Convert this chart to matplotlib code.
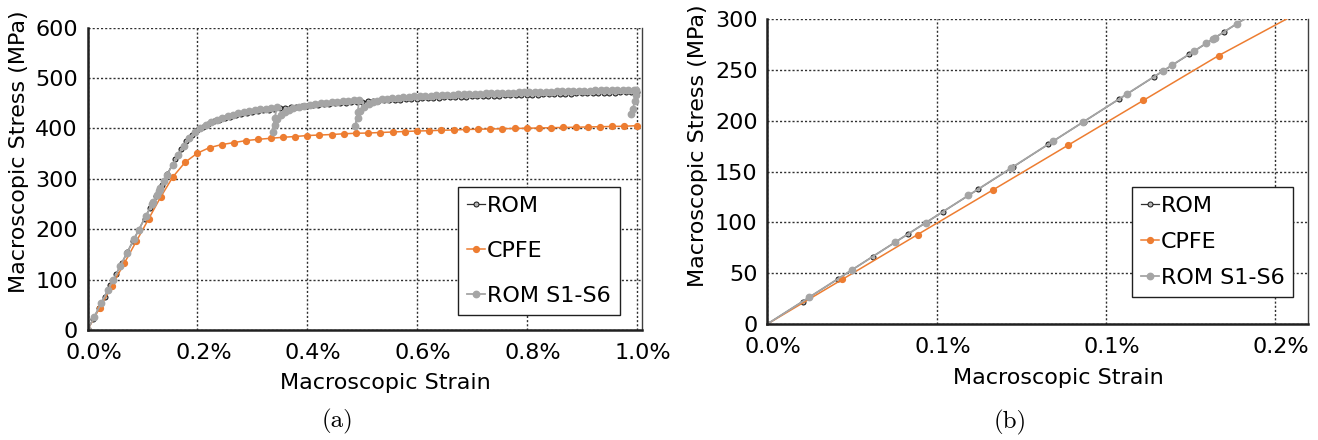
import matplotlib.pyplot as plt
from matplotlib.transforms import ScaledTranslation

# strain in %, stress in MPa
rom_strain = [0, 0.0104, 0.0208, 0.0311, 0.0415, 0.0519, 0.0623, 0.0727, 0.0830, 0.0934,
              0.1038, 0.1142, 0.1246, 0.1349, 0.1453,
              0.16, 0.17, 0.18, 0.19, 0.20, 0.21, 0.22, 0.23, 0.24, 0.25,
              0.26, 0.27, 0.28, 0.29, 0.30, 0.31, 0.32, 0.33, 0.34, 0.35,
              0.36, 0.37, 0.38, 0.39, 0.40, 0.41, 0.42, 0.43, 0.44, 0.45,
              0.46, 0.47, 0.48, 0.49, 0.50, 0.51, 0.52, 0.53, 0.54, 0.55,
              0.56, 0.57, 0.58, 0.59, 0.60, 0.61, 0.62, 0.63, 0.64, 0.65,
              0.66, 0.67, 0.68, 0.69, 0.70, 0.71, 0.72, 0.73, 0.74, 0.75,
              0.76, 0.77, 0.78, 0.79, 0.80, 0.81, 0.82, 0.83, 0.84, 0.85,
              0.86, 0.87, 0.88, 0.89, 0.90, 0.91, 0.92, 0.93, 0.94, 0.95,
              0.96, 0.97, 0.98, 0.99, 1.00]
rom_stress = [0, 22.1, 44.2, 66.3, 88.4, 110.5, 132.6, 154.7, 176.8, 198.9,
              221.0, 243.1, 265.2, 287.3, 309.4,
              340, 359, 375, 387, 396, 403.5, 409.5, 414, 417.5, 420.5,
              423.5, 426, 428.5, 430.5, 432.5, 434.5, 436, 437.5, 439, 440.5,
              441.5, 442.5, 443.5, 444.5, 445.5, 446.5, 447.3, 448.1, 448.9, 449.7,
              450.5, 451.2, 451.9, 452.6, 453.3, 454, 454.6, 455.2, 455.8, 456.4,
              457, 457.5, 458, 458.5, 459.2, 459.7, 460.2, 460.7, 461.1, 461.5,
              461.9, 462.3, 462.7, 463.1, 463.5, 463.8, 464.2, 464.6, 465, 465.3,
              465.6, 465.9, 466.2, 466.5, 466.8, 467.1, 467.4, 467.7, 468, 468.3,
              468.6, 468.9, 469.2, 469.5, 469.8, 470.1, 470.4, 470.7, 471, 471.2,
              471.4, 471.6, 471.8, 472, 472.2]

cpfe_strain = [0, 0.0222, 0.0444, 0.0667, 0.0889, 0.1111, 0.1333, 0.1556, 0.1778, 0.2000,
               0.2222, 0.2444, 0.2667, 0.2889, 0.3111, 0.3333, 0.3556, 0.3778, 0.4000, 0.4222,
               0.4444, 0.4667, 0.4889, 0.5111, 0.5333, 0.5556, 0.5778, 0.6000, 0.6222, 0.6444,
               0.6667, 0.6889, 0.7111, 0.7333, 0.7556, 0.7778, 0.8000, 0.8222, 0.8444, 0.8667,
               0.8889, 0.9111, 0.9333, 0.9556, 0.9778, 1.0000]
cpfe_stress = [0, 44, 88, 132, 176, 220, 264, 304, 333, 351,
               362, 368, 372, 376, 378.5, 380.5, 382.5, 384, 386, 387,
               388, 389.5, 390.5, 391, 392, 393, 394, 395, 395.5, 396.5,
               397, 398, 398.5, 399, 399.5, 400, 400.5, 401, 401.5, 402,
               402.5, 403, 403.5, 404, 404.5, 405.5]

s16_strain = [0, 0.0124, 0.0251, 0.0377, 0.0468, 0.0594, 0.0720, 0.0845, 0.0931, 0.1061,
              0.1170, 0.1194, 0.1261, 0.1296, 0.1316, 0.1322, 0.1386,
              0.145, 0.155, 0.165, 0.175, 0.185, 0.195, 0.205, 0.215, 0.225, 0.235,
              0.245, 0.255, 0.265, 0.275, 0.285, 0.295, 0.305, 0.315, 0.325, 0.335, 0.345,
              0.341, 0.337, 0.341, 0.346, 0.352, 0.359, 0.367, 0.375, 0.385,
              0.395, 0.405, 0.415, 0.425, 0.435, 0.445, 0.455, 0.465, 0.475, 0.485, 0.495,
              0.492, 0.488, 0.492, 0.497, 0.504, 0.512, 0.520, 0.528, 0.537,
              0.545, 0.555, 0.565, 0.575, 0.585, 0.595, 0.605, 0.615, 0.625, 0.635,
              0.645, 0.655, 0.665, 0.675, 0.685, 0.695, 0.705, 0.715, 0.725, 0.735,
              0.745, 0.755, 0.765, 0.775, 0.785, 0.795, 0.805, 0.815, 0.825, 0.835,
              0.845, 0.855, 0.865, 0.875, 0.885, 0.895, 0.905, 0.915, 0.925, 0.935,
              0.945, 0.955, 0.965, 0.975, 0.985, 0.995, 0.9995,
              0.9995, 0.997, 0.993, 0.989]
s16_stress = [0, 26.4, 53.5, 80.3, 99.7, 126.5, 153.4, 180.0, 198.3, 226.0,
              249.2, 254.3, 268.6, 276.0, 280.3, 281.6, 295.2,
              308, 328.5, 348, 366, 381, 392.5, 401, 407.5, 413, 417.5,
              421.5, 424.5, 427.5, 430, 432.5, 434.5, 436.5, 438, 439.5, 440.8, 442,
              421, 394, 406, 418, 426, 432, 437, 440.5, 443.5,
              445.5, 447.5, 448.8, 450, 451, 452, 453, 454, 454.8, 455.6, 456.3,
              432, 405, 421, 435, 443, 448, 452, 455.5, 458,
              459.5, 460.5, 461.3, 462.1, 462.9, 463.6, 464.2, 464.8, 465.3, 465.8,
              466.3, 466.8, 467.2, 467.6, 468, 468.4, 468.8, 469.2, 469.6, 470,
              470.3, 470.6, 470.9, 471.2, 471.5, 471.8, 472.1, 472.4, 472.7, 473,
              473.3, 473.6, 473.9, 474.2, 474.5, 474.8, 475, 475.2, 475.4, 475.6,
              475.8, 476, 476.2, 476.4, 476.6, 476.8, 477,
              467, 455, 438, 428]

left_xticks = [0, 0.2, 0.4, 0.6, 0.8, 1.0]
left_xlabels = ['0.0%', '0.2%', '0.4%', '0.6%', '0.8%', '1.0%']
left_yticks = [0, 100, 200, 300, 400, 500, 600]
right_xticks = [0, 0.05, 0.10, 0.15]
right_xlabels = ['0.0%', '0.1%', '0.1%', '0.2%']
right_yticks = [0, 50, 100, 150, 200, 250, 300]

FS = 16
fig = plt.figure(figsize=(13.18, 4.4), dpi=100)
ax1 = fig.add_axes([0.0664, 0.25, 0.4206, 0.687])
ax2 = fig.add_axes([0.5822, 0.2636, 0.4102, 0.6932])


def draw(ax, xlim, ylim, xticks, xlabels, yticks, spacing, anchor):
    ax.plot(rom_strain, rom_stress, color='#303030', lw=0.9, marker='o', ms=3.6,
            mfc='#b5b5b5', mec='#111111', mew=0.7, label='ROM')
    ax.plot(cpfe_strain, cpfe_stress, color='#ed7d31', lw=1.1, marker='o', ms=4.2,
            mec='#ed7d31', label='CPFE')
    ax.plot(s16_strain, s16_stress, color='#a5a5a5', lw=1.3, marker='o', ms=4.6,
            mec='#a5a5a5', label='ROM S1-S6')
    ax.set_xlim(*xlim)
    ax.set_ylim(*ylim)
    ax.set_xticks(xticks)
    ax.set_xticklabels(xlabels)
    ax.set_yticks(yticks)
    ax.tick_params(length=0, labelsize=FS)
    ax.tick_params(axis='x', pad=9.7)
    ax.tick_params(axis='y', pad=7)
    for lab in ax.get_xticklabels():
        lab.set_transform(lab.get_transform() + ScaledTranslation(0.06, 0, fig.dpi_scale_trans))
    ax.grid(True, color='#303030', lw=1.0, linestyle=(0, (1.5, 1.5)))
    ax.set_axisbelow(True)
    ax.spines['top'].set_visible(False)
    ax.spines['right'].set_color('#404040')
    ax.spines['right'].set_linewidth(1.0)
    for s in ['left', 'bottom']:
        ax.spines[s].set_color('#202020')
        ax.spines[s].set_linewidth(1.8)
    leg = ax.legend(loc='lower right', bbox_to_anchor=anchor, fontsize=FS,
                    handlelength=0.8, handletextpad=0.1, borderpad=0.4,
                    labelspacing=spacing, fancybox=False, framealpha=1,
                    borderaxespad=0)
    leg.get_frame().set_edgecolor('#202020')
    leg.get_frame().set_linewidth(1.0)


draw(ax1, (0, 1.0097), (0, 600), left_xticks, left_xlabels, left_yticks, 1.12, (0.96, 0.05))
draw(ax2, (0, 0.1597), (0, 300), right_xticks, right_xlabels, right_yticks, 0.72, (0.973, 0.0895))

fig.text(19 / 1318, 1 - 151.5 / 440, 'Macroscopic Stress (MPa)', rotation=90,
         ha='center', va='center', fontsize=FS)
fig.text(698 / 1318, 1 - 146 / 440, 'Macroscopic Stress (MPa)', rotation=90,
         ha='center', va='center', fontsize=FS)
fig.text(385 / 1318, 1 - 383 / 440, 'Macroscopic Strain', ha='center', va='center', fontsize=FS)
fig.text(1058 / 1318, 1 - 378 / 440, 'Macroscopic Strain', ha='center', va='center', fontsize=FS)
fig.text(338 / 1318, 1 - 421 / 440, '(a)', ha='center', va='center', family='cmr10', fontsize=18)
fig.text(1010.6 / 1318, 1 - 422 / 440, '(b)', ha='center', va='center', family='cmr10', fontsize=18)

fig.savefig('out.png', dpi=100)
